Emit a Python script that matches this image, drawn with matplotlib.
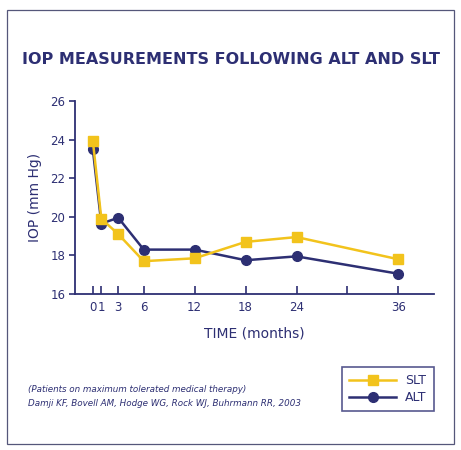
import matplotlib.pyplot as plt
from matplotlib.patches import Rectangle

months = [0, 1, 3, 6, 12, 18, 24, 36]
slt = [23.95, 19.9, 19.1, 17.7, 17.85, 18.7, 18.95, 17.8]
alt = [23.5, 19.65, 19.95, 18.3, 18.3, 17.75, 17.95, 17.05]
x_ticks = [0, 1, 3, 6, 12, 18, 24, 30, 36]
x_labels = ['0', '1', '3', '6', '12', '18', '24', '', '36']
y_ticks = [16, 18, 20, 22, 24, 26]

navy = '#2d2f73'
gold = '#f2c31c'

fig = plt.figure(figsize=(4.61, 4.5), dpi=100)
fig.patches.append(Rectangle((7 / 461, 6 / 450), 447 / 461, 434 / 450,
                             transform=fig.transFigure, fill=False,
                             edgecolor='#55577a', linewidth=0.9))

ax = fig.add_axes([75 / 461, 1 - 294 / 450, 359 / 461, 193 / 450])
ax.plot(months, alt, color=navy, lw=1.8, marker='o', ms=7, label='ALT', zorder=3)
ax.plot(months, slt, color=gold, lw=1.8, marker='s', ms=6.5, label='SLT', zorder=4)

ax.set_xlim(-2.1, 40.2)
ax.set_ylim(16, 26)
ax.set_xticks(x_ticks)
ax.set_xticklabels(x_labels)
ax.set_yticks(y_ticks)
for s in ['top', 'right']:
    ax.spines[s].set_visible(False)
for s in ['left', 'bottom']:
    ax.spines[s].set_color(navy)
    ax.spines[s].set_linewidth(1.3)
ax.tick_params(axis='x', direction='in', length=6, width=1.2, color=navy,
               labelcolor=navy, labelsize=8.5, pad=5)
ax.tick_params(axis='y', direction='out', length=4, width=1.2, color=navy,
               labelcolor=navy, labelsize=8.5, pad=3)
ax.set_ylabel('IOP (mm Hg)', color=navy, fontsize=10, labelpad=6)
ax.set_xlabel('TIME (months)', color=navy, fontsize=10, labelpad=9)

fig.text(0.5, 1 - 60 / 450, 'IOP MEASUREMENTS FOLLOWING ALT AND SLT',
         ha='center', va='center', color=navy, fontsize=11.5, fontweight='bold')

fig.text(28 / 461, 1 - 390 / 450, '(Patients on maximum tolerated medical therapy)',
         ha='left', va='center', color=navy, fontsize=6.3, style='italic')
fig.text(28 / 461, 1 - 404 / 450, 'Damji KF, Bovell AM, Hodge WG, Rock WJ, Buhrmann RR, 2003',
         ha='left', va='center', color=navy, fontsize=6.3, style='italic')

handles, labels = ax.get_legend_handles_labels()
leg = fig.legend(handles[::-1], labels[::-1], loc='upper left',
                 bbox_to_anchor=(342 / 461, 1 - 367 / 450),
                 frameon=True, fancybox=False, fontsize=9, handlelength=3.8,
                 borderpad=0.55, labelspacing=0.35, handletextpad=0.7,
                 borderaxespad=0)
leg.get_frame().set_edgecolor(navy)
leg.get_frame().set_linewidth(1.2)
for t in leg.get_texts():
    t.set_color(navy)

fig.savefig('out.png', dpi=100)
